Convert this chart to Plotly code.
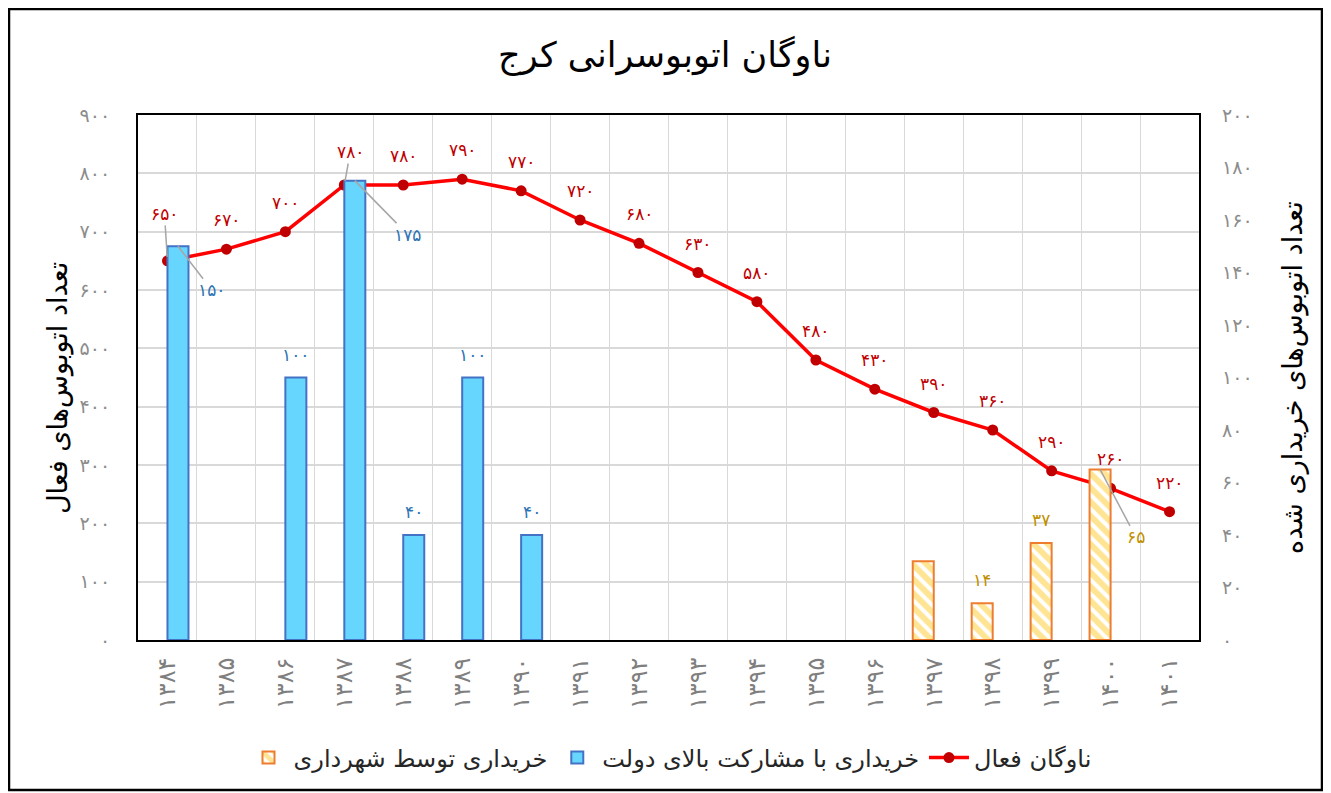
import plotly.graph_objects as go

# ---------------- data ----------------
years = [1384, 1385, 1386, 1387, 1388, 1389, 1390, 1391, 1392, 1393,
         1394, 1395, 1396, 1397, 1398, 1399, 1400, 1401]
active_fleet = [650, 670, 700, 780, 780, 790, 770, 720, 680, 630,
                580, 480, 430, 390, 360, 290, 260, 220]
gov_purchase = [150, None, 100, 175, 40, 100, 40, None, None, None,
                None, None, None, None, None, None, None, None]
city_purchase = [None, None, None, None, None, None, None, None, None, None,
                 None, None, None, 30, 14, 37, 65, None]

title_text = "ناوگان اتوبوسرانی کرج"
name_line = "ناوگان فعال"
name_gov = "خریداری با مشارکت بالای دولت"
name_city = "خریداری توسط شهرداری"
ytitle_left = "تعداد اتوبوس‌های فعال"
ytitle_right = "تعداد اتوبوس‌های خریداری شده"

left_ticks = list(range(0, 901, 100))
right_ticks = list(range(0, 201, 20))

# ---------------- helpers ----------------
FA = "۰۱۲۳۴۵۶۷۸۹"


def fa(n):
    return "".join(FA[int(c)] if c.isdigit() else c for c in str(n))


cats = [fa(y) for y in years]

FONT = "DejaVu Sans"
OFF = 8  # page body margin
W, H = 1331 - OFF, 793 - OFF
# plot area in screen pixels: x 138..1199, y 115..640
ML, MT = 138 - OFF, 115 - OFF
MR, MB = W - (1199 - OFF), H - (640 - OFF)
plot_w = W - ML - MR
plot_h = H - MT - MB
cat_px = plot_w / len(cats)
BARGAP = 0.287
bar_px = cat_px * (1 - BARGAP) / 2
shift = bar_px / 2  # group offset of each bar from category centre


def px_x(sx):  # screen x -> paper x
    return (sx - 138) / plot_w


def px_y(sy):  # screen y -> paper y
    return (640 - sy) / plot_h


fig = go.Figure()

fig.add_trace(go.Bar(
    x=cats, y=city_purchase, name=name_city, yaxis="y2",
    marker=dict(color="white",
                line=dict(color="#ED7D31", width=2),
                pattern=dict(shape="\\", fgcolor="#FFC928", bgcolor="white",
                             size=10, solidity=0.6)),
))
fig.add_trace(go.Bar(
    x=cats, y=gov_purchase, name=name_gov, yaxis="y2",
    marker=dict(color="#66D6FF", line=dict(color="#4472C4", width=2)),
))
fig.add_trace(go.Scatter(
    x=cats, y=active_fleet, name=name_line, mode="lines+markers",
    line=dict(color="#FF0000", width=3.5),
    marker=dict(color="#C00000", size=11),
))

annotations = []
LBL = 17

# line labels
line_leader = {0: (-3, -47), 3: (6, -33)}
for i, (c, v) in enumerate(zip(cats, active_fleet)):
    a = dict(x=c, y=v, xref="x", yref="y", text=fa(v),
             font=dict(family=FONT, size=LBL, color="#C00000"))
    if i in line_leader:
        ax, ay = line_leader[i]
        a.update(showarrow=True, ax=ax, ay=ay, arrowhead=0, arrowwidth=1.5,
                 arrowcolor="#A6A6A6", standoff=4)
    else:
        a.update(showarrow=False, yshift=29)
    annotations.append(a)

# government bar labels
gov_leader = {0: (34, 44), 3: (53, 54)}
for i, (c, v) in enumerate(zip(cats, gov_purchase)):
    if v is None:
        continue
    a = dict(x=c, y=v, xref="x", yref="y2", text=fa(v), xshift=shift,
             font=dict(family=FONT, size=LBL, color="#2E75B6"))
    if i in gov_leader:
        ax, ay = gov_leader[i]
        a.update(showarrow=True, ax=ax, ay=ay, arrowhead=0, arrowwidth=1.5,
                 arrowcolor="#A6A6A6", standoff=0)
    else:
        a.update(showarrow=False, yshift=23)
    annotations.append(a)

# municipality bar labels (first one has no label in reference)
city_leader = {16: (36, 68)}
city_hidden = {13}
for i, (c, v) in enumerate(zip(cats, city_purchase)):
    if v is None or i in city_hidden:
        continue
    a = dict(x=c, y=v, xref="x", yref="y2", text=fa(v), xshift=-shift,
             font=dict(family=FONT, size=LBL, color="#BF9000"))
    if i in city_leader:
        ax, ay = city_leader[i]
        a.update(showarrow=True, ax=ax, ay=ay, arrowhead=0, arrowwidth=1.5,
                 arrowcolor="#A6A6A6", standoff=0)
    else:
        a.update(showarrow=False, yshift=23)
    annotations.append(a)

# axis titles
annotations.append(dict(x=px_x(58), y=px_y(388), xref="paper", yref="paper",
                        xanchor="center", yanchor="middle",
                        text=ytitle_left, textangle=-90, showarrow=False,
                        font=dict(family=FONT, size=27, color="#000000")))
annotations.append(dict(x=px_x(1293), y=px_y(378), xref="paper", yref="paper",
                        xanchor="center", yanchor="middle",
                        text=ytitle_right, textangle=-90, showarrow=False,
                        font=dict(family=FONT, size=27, color="#000000")))

shapes = [dict(type="rect", xref="paper", yref="paper",
               x0=px_x(OFF + 1), x1=px_x(1322),
               y0=px_y(790), y1=px_y(OFF + 1),
               line=dict(color="black", width=2.5), fillcolor="rgba(0,0,0,0)",
               layer="below")]

fig.update_layout(
    width=W, height=H,
    margin=dict(l=ML, r=MR, t=MT, b=MB),
    paper_bgcolor="white", plot_bgcolor="white",
    font=dict(family=FONT),
    title=dict(text=title_text, x=(665 - OFF) / W, xref="container",
               xanchor="center",
               y=1 - (55 - OFF) / H, yref="container", yanchor="middle",
               font=dict(family=FONT, size=35, color="#000000")),
    barmode="group", bargap=BARGAP, bargroupgap=0,
    showlegend=True,
    legend=dict(orientation="h", x=px_x(670), xanchor="center",
                y=px_y(758), yanchor="middle",
                font=dict(family=FONT, size=24, color="#262626"),
                traceorder="normal", itemwidth=40),
    xaxis=dict(type="category", tickangle=-90, tickson="boundaries",
               range=[-0.5, len(cats) - 0.5], autorange=False,
               showgrid=True, gridcolor="#D9D9D9", gridwidth=1,
               ticks="", showline=True, mirror=True, linecolor="black",
               linewidth=2, ticklabelstandoff=6,
               tickfont=dict(family=FONT, size=24, color="#7F7F7F")),
    yaxis=dict(range=[0, 900], autorange=False, tickvals=left_ticks,
               ticktext=[fa(t) for t in left_ticks],
               showgrid=True, gridcolor="#D9D9D9", gridwidth=2,
               zeroline=False, showline=True, mirror=True, linecolor="black",
               linewidth=2, ticks="", ticklabelstandoff=22,
               tickfont=dict(family=FONT, size=19, color="#8C8C8C")),
    yaxis2=dict(range=[0, 200], autorange=False, tickvals=right_ticks,
                ticktext=[fa(t) for t in right_ticks],
                overlaying="y", side="right", showgrid=False, zeroline=False,
                ticks="", ticklabelstandoff=22,
                tickfont=dict(family=FONT, size=19, color="#8C8C8C")),
    annotations=annotations,
    shapes=shapes,
)

fig.write_html("out.html")
